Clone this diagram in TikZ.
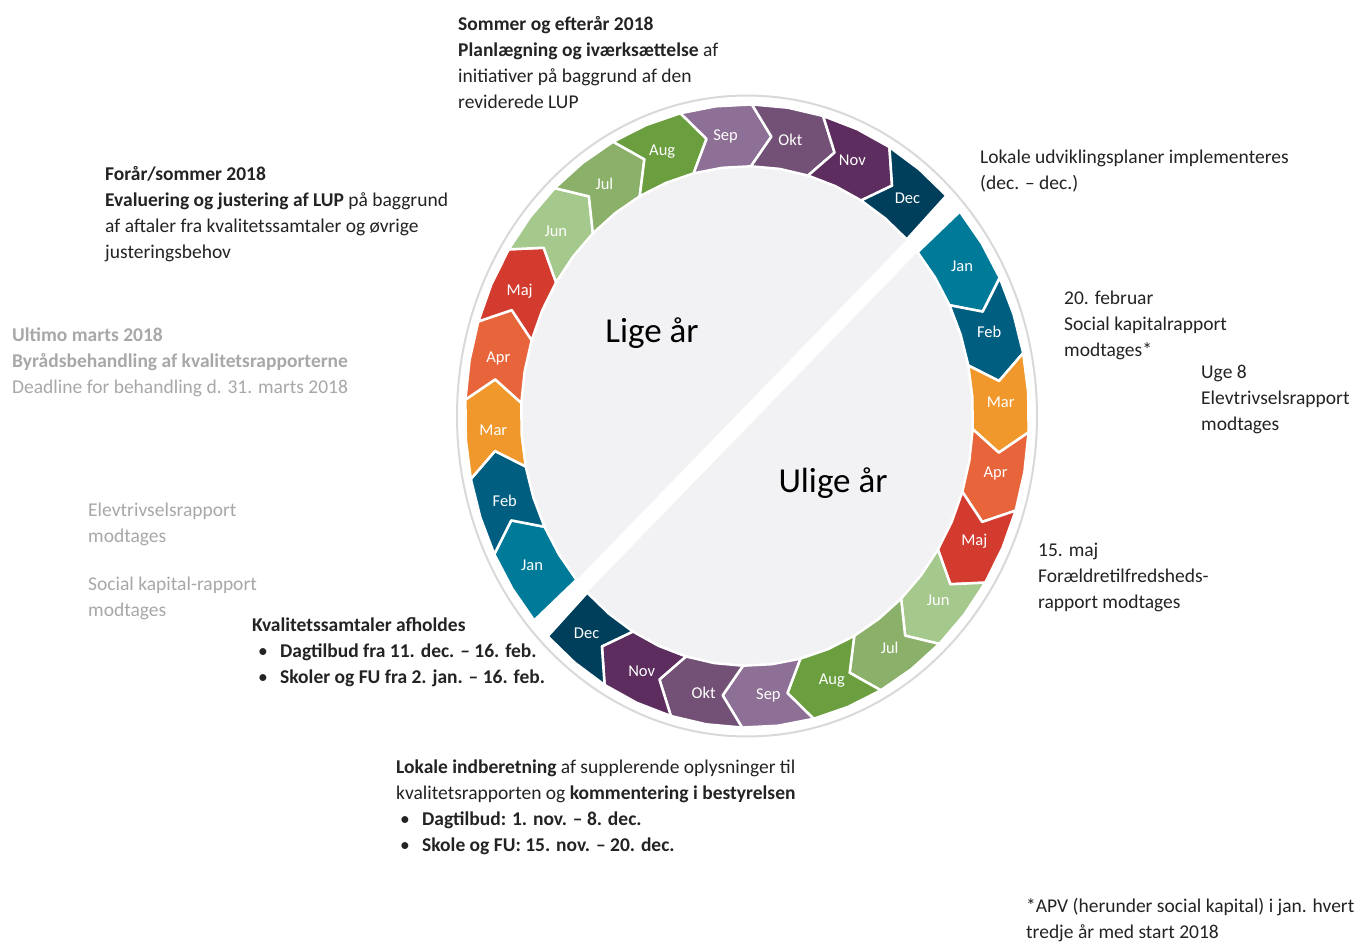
\documentclass[tikz,border=0pt]{standalone}
\usepackage{fontspec}
\setmainfont{Carlito}
\definecolor{mJan}{RGB}{0,122,153}
\definecolor{mFeb}{RGB}{0,94,128}
\definecolor{mMar}{RGB}{240,152,43}
\definecolor{mApr}{RGB}{232,100,58}
\definecolor{mMaj}{RGB}{210,59,46}
\definecolor{mJun}{RGB}{165,200,140}
\definecolor{mJul}{RGB}{139,176,106}
\definecolor{mAug}{RGB}{106,158,62}
\definecolor{mSep}{RGB}{142,111,150}
\definecolor{mOkt}{RGB}{115,81,118}
\definecolor{mNov}{RGB}{92,45,94}
\definecolor{mDec}{RGB}{0,63,92}
\definecolor{disc}{RGB}{242,242,244}
\definecolor{rim}{RGB}{217,217,217}
\definecolor{txt}{RGB}{35,35,35}
\definecolor{faint}{RGB}{168,168,168}

\begin{document}
\begin{tikzpicture}[x=1pt,y=1pt,
  note/.style={anchor=base west,align=left,inner sep=0pt,text=txt,font=\fontsize{19.5}{26}\selectfont},
  faintnote/.style={note,text=faint},
  monthlabel/.style={text=white,inner sep=0pt,font=\fontsize{16.5}{16.5}\selectfont},
  yearlabel/.style={text=black,inner sep=0pt,font=\fontsize{35}{35}\selectfont}]
\useasboundingbox (0,0) rectangle (1357,-942);
\fill[white] (0,0) rectangle (1357,-942);
\begin{scope}[shift={(747,-416)},yscale=1.105]
\draw[rim,line width=2pt] (0,0) circle (290);
\fill[disc] (0,0) circle (228);
\draw[white,line width=16pt] (223:286) -- (43:286);
\foreach \h/\hn in {0/lige,1/ulige}{
  \foreach \m [count=\i from 0] in {Jan,Feb,Mar,Apr,Maj,Jun,Jul,Aug,Sep,Okt,Nov,Dec}{
    \pgfmathsetmacro\as{221-180*\h-14.6667*\i}
    \pgfmathsetmacro\ae{\as-14.6667}
    \pgfmathsetmacro\am{\as-7.3333}
    \pgfmathsetmacro\an{\as-(\i>0)*4.5}
    \pgfmathsetmacro\at{\ae-(\i<11)*4.5}
    \pgfmathsetmacro\al{\am-1.5}
    \filldraw[fill=m\m,draw=white,line width=2.5pt,line join=round]
      (\as:282) -- (\an:254) -- (\as:226) -- (\am:226) -- (\ae:226)
      -- (\at:254) -- (\ae:282) -- (\am:282) -- cycle;
    \node[monthlabel] (\hn\m) at (\al:254) {\m};
  }
}
\end{scope}
\node[yearlabel] (lige) at (652,-333) {Lige år};
\node[yearlabel] (ulige) at (833,-483) {Ulige år};

\node[note] (sommer) at (458,-108) {\textbf{Sommer og efterår 2018}\\\textbf{Planlægning og iværksættelse} af\\initiativer på baggrund af den\\reviderede LUP};
\node[note] (foraar) at (105,-258) {\textbf{Forår/sommer 2018}\\\textbf{Evaluering og justering af LUP} på baggrund\\af aftaler fra kvalitetssamtaler og øvrige\\justeringsbehov};
\node[faintnote] (ultimo) at (12,-393) {\textbf{Ultimo marts 2018}\\\textbf{Byrådsbehandling af kvalitetsrapporterne}\\Deadline for behandling d. 31. marts 2018};
\node[faintnote] (elevlige) at (88,-542) {Elevtrivselsrapport\\modtages};
\node[faintnote] (sociallige) at (88,-616) {Social kapital-rapport\\modtages};
\node[note] (samtaler) at (252,-683) {\textbf{Kvalitetssamtaler afholdes}\\
  \hspace*{6pt}\makebox[22pt][l]{•}\textbf{Dagtilbud fra 11. dec. – 16. feb.}\\
  \hspace*{6pt}\makebox[22pt][l]{•}\textbf{Skoler og FU fra 2. jan. – 16. feb.}};
\node[note] (indberetning) at (396,-851) {\textbf{Lokale indberetning} af supplerende oplysninger til\\
  kvalitetsrapporten og \textbf{kommentering i bestyrelsen}\\
  \hspace*{4pt}\makebox[22pt][l]{•}\textbf{Dagtilbud: 1. nov. – 8. dec.}\\
  \hspace*{4pt}\makebox[22pt][l]{•}\textbf{Skole og FU: 15. nov. – 20. dec.}};
\node[note] (udvikling) at (980,-189) {Lokale udviklingsplaner implementeres\\(dec. – dec.)};
\node[note] (februar) at (1064,-356) {20. februar\\Social kapitalrapport\\modtages*};
\node[note] (uge) at (1201,-430) {Uge 8\\Elevtrivselsrapport\\modtages};
\node[note] (maj) at (1038,-608) {15. maj\\Forældretilfredsheds-\\rapport modtages};
\node[note] (apv) at (1026,-938) {*APV (herunder social kapital) i jan. hvert\\tredje år med start 2018};
\end{tikzpicture}
\end{document}
